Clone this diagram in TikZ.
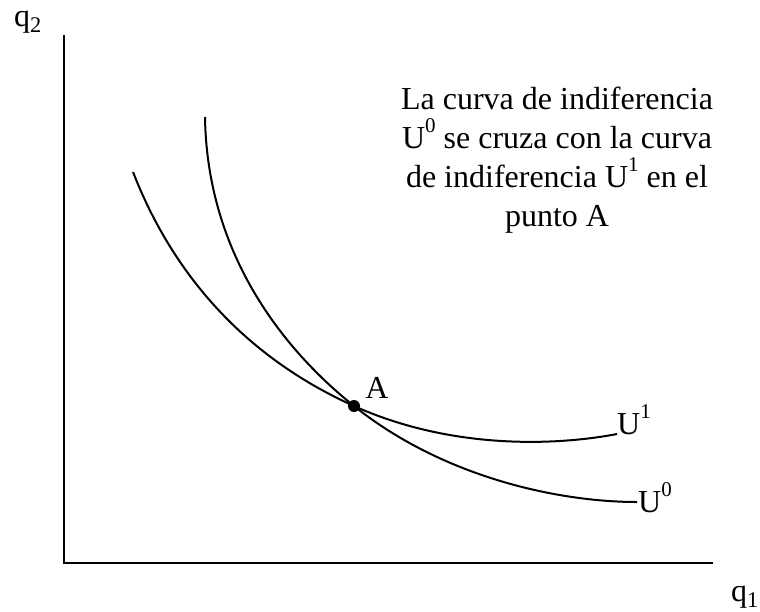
\documentclass[tikz,border=0pt]{standalone}
\usepackage{fontspec}
\setmainfont{Liberation Serif}

\newcommand{\supr}[1]{\raisebox{0.5em}{\fontsize{21}{21}\selectfont #1}}

\tikzset{
	curve/.style={line width=2pt, black},
	axis/.style={line width=2pt, black},
	dot/.style={circle, fill=black, inner sep=0pt, minimum size=12pt},
	lbl/.style={inner sep=0pt, font=\fontsize{32}{39}\selectfont}
}

\begin{document}
\begin{tikzpicture}[x=1pt, y=-1pt]
	\useasboundingbox (0,0) rectangle (760,611);

	% Define nodes with their coordinates
	\coordinate (O) at (64,563);
	\coordinate (ytop) at (64,35);
	\coordinate (xend) at (713,563);
	\node[lbl] (q2) at (28,22) {q\textsubscript{2}};
	\node[lbl] (q1) at (745,597) {q\textsubscript{1}};

	\node[dot] (A) at (354,406) {};
	\node[lbl] (Alab) at (377,388) {A};

	\coordinate (u0start) at (205,117);
	\coordinate (u1start) at (133,172);
	\coordinate (u0end) at (637,502);
	\coordinate (u1end) at (617,434);
	\node[lbl, anchor=base west] (U0) at (638,512) {U\supr{0}};
	\node[lbl, anchor=base west] (U1) at (617,434) {U\supr{1}};

	\node[lbl, align=center] (note) at (557,160) {La curva de indiferencia\\U\supr{0} se cruza con la curva\\de indiferencia U\supr{1} en el\\punto A};

	% Draw axes
	\draw[axis] (ytop) -- (O) -- (xend);

	% Draw the two indifference curves
	\draw[curve] (u0start) .. controls (207,250) and (279,346) .. (A.center)
		.. controls (444,478) and (560,502) .. (u0end);
	\draw[curve] (u1start) .. controls (168,262) and (234,352) .. (A.center)
		.. controls (454,451) and (560,445) .. (u1end);

\end{tikzpicture}
\end{document}
